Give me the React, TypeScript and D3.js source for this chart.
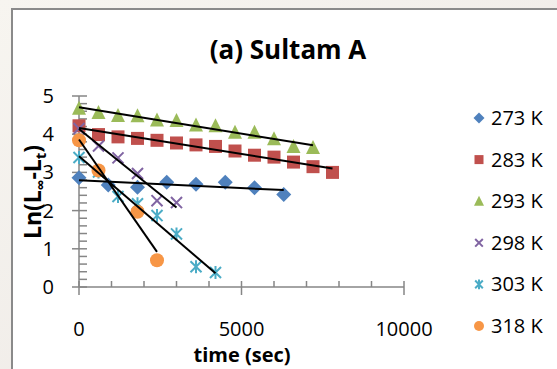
import React from "react";
import * as d3 from "d3";

const W = 557;
const H = 369;

const seriesNames = ["273 K", "283 K", "293 K", "298 K", "303 K", "318 K"];
const seriesColors = ["#4F81BD", "#C0504D", "#9BBB59", "#8064A2", "#4BACC6", "#F79646"];
const seriesShapes = ["diamond", "square", "triangle", "x", "star", "circle"];

const t273 = [0, 900, 1800, 2700, 3600, 4500, 5400, 6300];
const v273 = [2.86, 2.67, 2.61, 2.74, 2.69, 2.74, 2.6, 2.42];

const t283 = [0, 600, 1200, 1800, 2400, 3000, 3600, 4200, 4800, 5400, 6000, 6600, 7200, 7800];
const v283 = [4.22, 3.99, 3.93, 3.89, 3.84, 3.77, 3.72, 3.68, 3.56, 3.45, 3.4, 3.27, 3.15, 3.0];

const t293 = [0, 600, 1200, 1800, 2400, 3000, 3600, 4200, 4800, 5400, 6000, 6600, 7200];
const v293 = [4.68, 4.57, 4.49, 4.48, 4.37, 4.36, 4.24, 4.22, 4.05, 4.05, 3.88, 3.68, 3.65];

const t298 = [0, 600, 1200, 1800, 2400, 3000];
const v298 = [4.15, 3.69, 3.38, 2.97, 2.26, 2.21];

const t303 = [0, 600, 1200, 1800, 2400, 3000, 3600, 4200];
const v303 = [3.39, 3.01, 2.37, 2.18, 1.87, 1.39, 0.53, 0.38];

const t318 = [0, 600, 1800, 2400];
const v318 = [3.84, 3.05, 1.97, 0.7];

const seriesTimes = [t273, t283, t293, t298, t303, t318];
const seriesValues = [v273, v283, v293, v298, v303, v318];

const xTicks = [0, 5000, 10000];
const yTicks = [0, 1, 2, 3, 4, 5];

const titleText = "(a) Sultam A";
const xTitle = "time (sec)";

const FONT = "'Open Sans', 'Noto Sans', sans-serif";

function fit(ts: number[], vs: number[]) {
  const mt = d3.mean(ts) as number;
  const mv = d3.mean(vs) as number;
  let num = 0;
  let den = 0;
  ts.forEach((t, i) => {
    num += (t - mt) * (vs[i] - mv);
    den += (t - mt) * (t - mt);
  });
  const slope = num / den;
  const intercept = mv - slope * mt;
  return { slope, intercept };
}

function Marker({ shape, color, cx, cy, s }: { shape: string; color: string; cx: number; cy: number; s: number }) {
  const h = s / 2;
  switch (shape) {
    case "diamond":
      return <path d={`M${cx},${cy - h - 1}L${cx + h + 1},${cy}L${cx},${cy + h + 1}L${cx - h - 1},${cy}Z`} fill={color} />;
    case "square":
      return <rect x={cx - h} y={cy - h} width={s} height={s} fill={color} />;
    case "triangle":
      return <path d={`M${cx},${cy - h - 1}L${cx + h + 0.5},${cy + h}L${cx - h - 0.5},${cy + h}Z`} fill={color} />;
    case "x": {
      const a = h * 0.85;
      return (
        <path d={`M${cx - a},${cy - a}L${cx + a},${cy + a}M${cx - a},${cy + a}L${cx + a},${cy - a}`} stroke={color} strokeWidth={2} fill="none" />
      );
    }
    case "star": {
      const a = h * 0.85;
      return (
        <path
          d={`M${cx - a},${cy - a}L${cx + a},${cy + a}M${cx - a},${cy + a}L${cx + a},${cy - a}M${cx},${cy - a - 1}L${cx},${cy + a + 1}`}
          stroke={color}
          strokeWidth={2}
          fill="none"
        />
      );
    }
    default:
      return <circle cx={cx} cy={cy} r={h + 0.5} fill={color} />;
  }
}

export default function App() {
  const x = d3.scaleLinear().domain([0, 10000]).range([79, 404]);
  const y = d3.scaleLinear().domain([0, 5]).range([287, 96]);
  const axisColor = "#868686";
  const x0 = x(0);
  const y0 = y(0);

  const xMinor = d3.range(1000, 10001, 1000).filter((v) => v % 5000 !== 0);
  const yMinor = d3.range(0.2, 5.0001, 0.2).filter((v) => Math.abs(v - Math.round(v)) > 0.01);

  const legendY = d3.scaleLinear().domain([0, 5]).range([118, 326]);

  return (
    <svg width={W} height={H} style={{ position: "absolute", left: 0, top: 0 }} fontFamily={FONT}>
      <defs>
        <linearGradient id="bgGrad" x1="0" y1="0" x2="1" y2="1">
          <stop offset="0" stopColor="#f7f5f0" />
          <stop offset="1" stopColor="#ece7e4" />
        </linearGradient>
      </defs>
      <rect x={0} y={0} width={W} height={H} fill="url(#bgGrad)" />
      <rect x={12} y={9} width={W} height={H} fill="#ffffff" stroke="#8a8a8a" strokeWidth={2} />

      {/* Title */}
      <text x={288} y={59} textAnchor="middle" fontWeight="bold" fontSize={26} fill="#000">
        {titleText}
      </text>

      {/* Axes */}
      <line x1={x0} x2={x(10000)} y1={y0} y2={y0} stroke={axisColor} strokeWidth={1.5} />
      <line x1={x0} x2={x0} y1={y0} y2={y(5)} stroke={axisColor} strokeWidth={1.5} />
      {xTicks.map((v) => (
        <line key={"xt" + v} x1={x(v)} x2={x(v)} y1={y0 - 6} y2={y0 + 8} stroke={axisColor} strokeWidth={1.5} />
      ))}
      {xMinor.map((v) => (
        <line key={"xm" + v} x1={x(v)} x2={x(v)} y1={y0 - 6} y2={y0} stroke={axisColor} strokeWidth={1.5} />
      ))}
      {yTicks.map((v) => (
        <line key={"yt" + v} x1={x0 - 7} x2={x0 + 8} y1={y(v)} y2={y(v)} stroke={axisColor} strokeWidth={1.5} />
      ))}
      {yMinor.map((v) => (
        <line key={"ym" + v} x1={x0} x2={x0 + 8} y1={y(v)} y2={y(v)} stroke={axisColor} strokeWidth={1.5} />
      ))}

      {/* Tick labels */}
      {xTicks.map((v) => (
        <text key={"xl" + v} x={x(v)} y={336} textAnchor="middle" fontSize={20} fill="#000">
          {v}
        </text>
      ))}
      {yTicks.map((v) => (
        <text key={"yl" + v} x={54} y={y(v) + 7} textAnchor="end" fontSize={20} fill="#000">
          {v}
        </text>
      ))}

      {/* Axis titles */}
      <text x={242} y={362} textAnchor="middle" fontWeight="bold" fontSize={20} fill="#000">
        {xTitle}
      </text>
      <text transform="translate(41,192) rotate(-90)" textAnchor="middle" fontWeight="bold" fontSize={23} fill="#000">
        Ln(L<tspan fontSize={15} dy={5}>∞</tspan>
        <tspan dy={-5}>-L</tspan>
        <tspan fontSize={15} dy={5}>t</tspan>
        <tspan dy={-5}>)</tspan>
      </text>

      {/* Markers */}
      {seriesTimes.map((ts, si) => (
        <g key={"s" + si}>
          {ts.map((t, i) => (
            <Marker key={i} shape={seriesShapes[si]} color={seriesColors[si]} cx={x(t)} cy={y(seriesValues[si][i])} s={13} />
          ))}
        </g>
      ))}

      {/* Trend lines */}
      {seriesTimes.map((ts, si) => {
        const { slope, intercept } = fit(ts, seriesValues[si]);
        const tMin = d3.min(ts) as number;
        const tMax = d3.max(ts) as number;
        return (
          <line
            key={"tr" + si}
            x1={x(tMin)}
            y1={y(intercept + slope * tMin)}
            x2={x(tMax)}
            y2={y(intercept + slope * tMax)}
            stroke="#000"
            strokeWidth={2}
          />
        );
      })}

      {/* Legend */}
      {seriesNames.map((name, i) => (
        <g key={"lg" + i}>
          <Marker shape={seriesShapes[i]} color={seriesColors[i]} cx={479} cy={legendY(i)} s={9} />
          <text x={491} y={legendY(i) + 7} fontSize={20} fill="#000">
            {name}
          </text>
        </g>
      ))}
    </svg>
  );
}
